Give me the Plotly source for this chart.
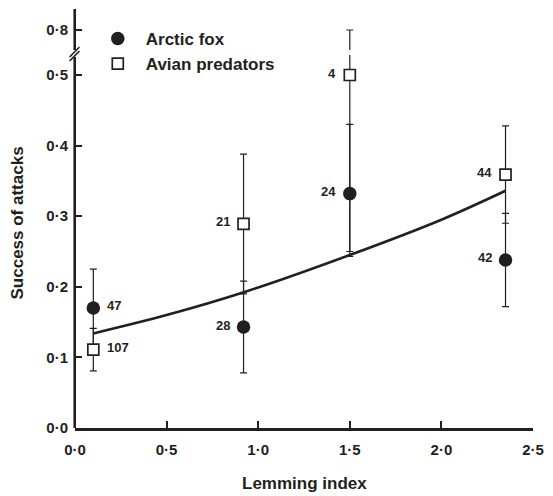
import plotly.graph_objects as go

# ---------------- data ----------------
fox_x = [0.10, 0.92, 1.50, 2.35]
fox_y = [0.170, 0.143, 0.332, 0.238]
fox_hi = [0.225, 0.208, 0.430, 0.304]
fox_lo = [0.115, 0.078, 0.243, 0.172]
fox_n = ["47", "28", "24", "42"]

avian_x = [0.10, 0.92, 1.50, 2.35]
avian_y = [0.111, 0.289, 0.500, 0.359]
avian_hi = [0.141, 0.388, 0.800, 0.428]
avian_lo = [0.081, 0.190, 0.250, 0.290]
avian_n = ["107", "21", "4", "44"]

curve_x = [0.10, 0.50, 0.93, 1.50, 2.00, 2.35]
curve_y = [0.134, 0.160, 0.193, 0.245, 0.295, 0.336]

x_ticks = [0.0, 0.5, 1.0, 1.5, 2.0, 2.5]
x_ticklabels = ["0·0", "0·5", "1·0", "1·5", "2·0", "2·5"]
y_ticks = [0.0, 0.1, 0.2, 0.3, 0.4, 0.5, 0.8]
y_ticklabels = ["0·0", "0·1", "0·2", "0·3", "0·4", "0·5", "0·8"]

# broken axis: values above 0.5 are compressed
BREAK_AT = 0.5
BREAK_SCALE = 0.2124


def disp(v):
    return v if v <= BREAK_AT else BREAK_AT + (v - BREAK_AT) * BREAK_SCALE


INK = "#231f20"
FONT = "Liberation Sans, Arial, Helvetica, sans-serif"

W, H = 553, 496
ML, MR, MT, MB = 75, 13, 9, 68
Y_TOP = (H - MB - MT) / 706.0  # display units at top of plot

fig = go.Figure()

fig.add_trace(go.Scatter(
    x=curve_x, y=[disp(v) for v in curve_y], mode="lines",
    line=dict(color=INK, width=2.6, shape="spline", smoothing=1.0),
    showlegend=False, hoverinfo="skip"))

fig.add_trace(go.Scatter(
    x=fox_x, y=[disp(v) for v in fox_y], mode="markers", name="Arctic fox",
    marker=dict(symbol="circle", size=13.5, color=INK, line=dict(width=0)),
    error_y=dict(type="data", symmetric=False,
                 array=[disp(h) - disp(y) for h, y in zip(fox_hi, fox_y)],
                 arrayminus=[disp(y) - disp(l) for l, y in zip(fox_lo, fox_y)],
                 color=INK, thickness=1.2, width=3.5)))

fig.add_trace(go.Scatter(
    x=avian_x, y=[disp(v) for v in avian_y], mode="markers", name="Avian predators",
    marker=dict(symbol="square", size=11, color="white", line=dict(width=1.7, color=INK)),
    error_y=dict(type="data", symmetric=False,
                 array=[disp(h) - disp(y) for h, y in zip(avian_hi, avian_y)],
                 arrayminus=[disp(y) - disp(l) for l, y in zip(avian_lo, avian_y)],
                 color=INK, thickness=1.2, width=3.5)))

# sample size labels
ann = []
for xs, ys, ns in ((fox_x, fox_y, fox_n), (avian_x, avian_y, avian_n)):
    for i, (xv, yv, nv) in enumerate(zip(xs, ys, ns)):
        left_side = i > 0
        ann.append(dict(x=xv, y=disp(yv), xref="x", yref="y", text=nv, showarrow=False,
                        xanchor="right" if left_side else "left",
                        xshift=-12 if left_side else 12, yshift=2,
                        font=dict(family=FONT, size=13, color=INK, weight="bold")))

# axis titles
ann.append(dict(x=0.5, y=0, xref="paper", yref="paper", text="Lemming index",
                showarrow=False, yanchor="middle", yshift=-55,
                font=dict(family=FONT, size=17, color=INK, weight="bold")))
ann.append(dict(x=0, y=0.5, xref="paper", yref="paper", text="Success of attacks",
                showarrow=False, textangle=-90, xanchor="center", xshift=-58, yshift=-5,
                font=dict(family=FONT, size=17, color=INK, weight="bold")))


# pixel helpers for paper coordinates (for axis-break drawing)
def px_x(p):
    return (p - ML) / (W - ML - MR)


def px_y(p):
    return (H - MB - p) / (H - MB - MT)


shapes = []
# y axis line with break gap
shapes.append(dict(type="line", xref="paper", yref="paper", x0=px_x(74.7), x1=px_x(74.7),
                   y0=0, y1=px_y(57), line=dict(color=INK, width=2.6), layer="above"))
shapes.append(dict(type="line", xref="paper", yref="paper", x0=px_x(74.7), x1=px_x(74.7),
                   y0=px_y(50), y1=1, line=dict(color=INK, width=2.6), layer="above"))
# break slashes
for off in (0, -4):
    shapes.append(dict(type="line", xref="paper", yref="paper",
                       x0=px_x(69.5), y0=px_y(61 + off), x1=px_x(79.5), y1=px_y(51 + off),
                       line=dict(color=INK, width=1.6), layer="above"))
# gap in the error bar crossing the break
shapes.append(dict(type="rect", xref="x", yref="paper", x0=1.485, x1=1.515,
                   y0=px_y(55), y1=px_y(50), fillcolor="white", line=dict(width=0),
                   layer="above"))

fig.update_layout(
    width=W, height=H,
    margin=dict(l=ML, r=MR, t=MT, b=MB),
    paper_bgcolor="white", plot_bgcolor="white",
    font=dict(family=FONT, color=INK),
    showlegend=True,
    legend=dict(x=px_x(90), y=px_y(21), xanchor="left", yanchor="top",
                bgcolor="rgba(0,0,0,0)", itemwidth=46,
                font=dict(family=FONT, size=17, color=INK, weight="bold"),
                tracegroupgap=0),
    xaxis=dict(range=[0, 2.5], tickvals=x_ticks, ticktext=x_ticklabels,
               ticks="inside", ticklen=7, tickwidth=2.2, tickcolor=INK,
               showline=True, linecolor=INK, linewidth=2.6,
               showgrid=False, zeroline=False,
               tickfont=dict(family=FONT, size=15, color=INK, weight="bold"),
               ticklabelstandoff=6),
    yaxis=dict(range=[0, Y_TOP], tickvals=[disp(v) for v in y_ticks], ticktext=y_ticklabels,
               ticks="inside", ticklen=7, tickwidth=2.2, tickcolor=INK,
               showline=False, showgrid=False, zeroline=False,
               tickfont=dict(family=FONT, size=15, color=INK, weight="bold"),
               ticklabelstandoff=6),
    annotations=ann,
    shapes=shapes,
)

fig.write_html("out.html", config={"displayModeBar": False},
               post_script="document.body.style.margin='0';document.body.style.padding='0';")
